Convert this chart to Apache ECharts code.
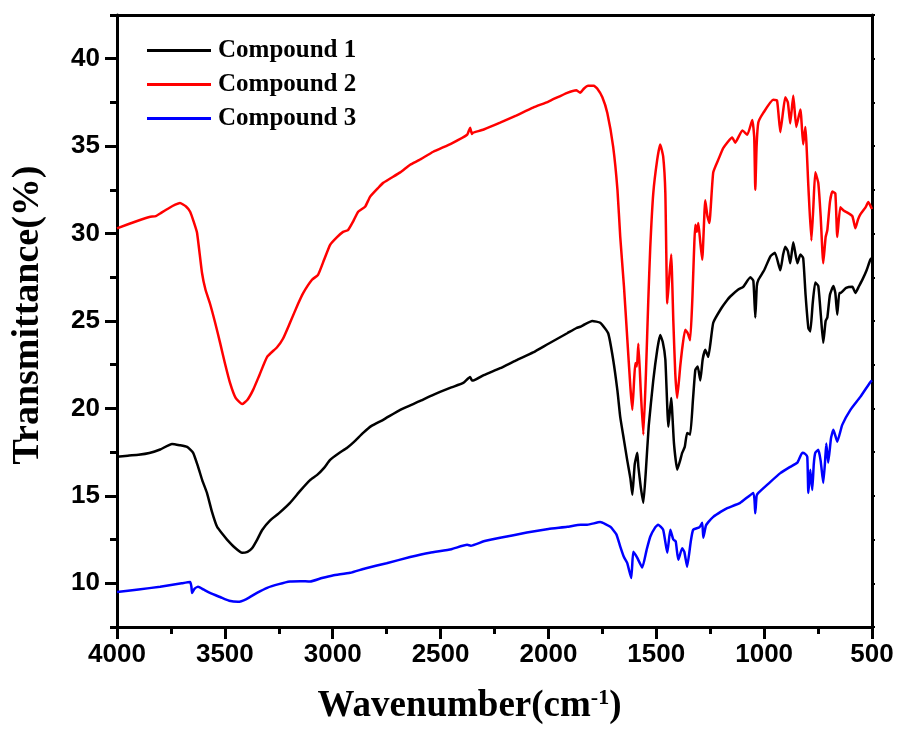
<!DOCTYPE html>
<html>
<head>
<meta charset="utf-8">
<script src="https://cdn.jsdelivr.net/npm/echarts@6/dist/echarts.min.js"></script>
<style>
html,body{margin:0;padding:0;background:#fff;}
#chart{width:900px;height:731px;}
</style>
</head>
<body>
<div id="chart"></div>
<script>
// ---- data: [wavenumber (cm-1), transmittance (%)] ----
var seriesNames = ['Compound 1', 'Compound 2', 'Compound 3'];

var compound1 = [[4000,17.23],[3950,17.3],[3900,17.35],[3850,17.45],[3800,17.65],[3745,17.97],[3710,17.9],[3675,17.8],[3647,17.46],[3624,16.66],[3605,15.9],[3583,15.17],[3560,14.1],[3536,13.23],[3510,12.8],[3490,12.5],[3453,12.03],[3420,11.74],[3395,11.8],[3374,12.0],[3350,12.5],[3327,13.05],[3290,13.6],[3250,14.0],[3198,14.6],[3150,15.3],[3105,15.9],[3072,16.2],[3040,16.6],[3012,17.06],[2970,17.45],[2933,17.75],[2900,18.1],[2859,18.6],[2820,19.0],[2766,19.35],[2687,19.92],[2600,20.4],[2534,20.78],[2450,21.2],[2395,21.46],[2363,21.8],[2355,21.6],[2349,21.6],[2300,21.9],[2224,22.3],[2150,22.75],[2071,23.2],[2000,23.7],[1913,24.3],[1870,24.6],[1853,24.67],[1840,24.75],[1797,25.0],[1760,24.9],[1723,24.3],[1700,22.8],[1680,21.0],[1667,19.5],[1650,18.2],[1635,17.06],[1620,16.0],[1611,15.06],[1600,16.8],[1588,17.46],[1583,16.66],[1572,15.5],[1560,14.6],[1548,16.5],[1535,19.0],[1514,21.6],[1495,23.4],[1482,24.2],[1470,23.8],[1458,22.8],[1444,18.95],[1431,20.6],[1418,18.0],[1403,16.5],[1390,17.0],[1380,17.46],[1368,17.8],[1357,18.6],[1343,18.5],[1330,20.5],[1319,22.2],[1308,22.4],[1296,21.6],[1285,22.8],[1273,23.35],[1259,22.95],[1236,24.9],[1200,25.7],[1171,26.2],[1157,26.4],[1120,26.8],[1097,26.95],[1064,27.5],[1050,27.3],[1041,25.2],[1034,27.0],[1027,27.35],[1000,27.9],[971,28.7],[950,28.9],[925,27.9],[912,28.8],[902,29.25],[890,29.0],[879,28.3],[865,29.5],[846,28.3],[832,28.8],[819,28.6],[808,26.5],[795,24.6],[786,24.4],[775,26.0],[763,27.2],[749,27.0],[737,25.3],[726,23.75],[715,25.0],[707,25.2],[695,26.5],[679,27.0],[670,26.6],[661,25.36],[652,26.6],[647,26.6],[620,26.9],[591,26.96],[577,26.6],[560,27.0],[545,27.35],[525,27.9],[508,28.5],[500,28.6]];

var compound2 = [[4000,30.3],[3900,30.75],[3850,30.95],[3820,31.0],[3800,31.15],[3760,31.45],[3730,31.65],[3708,31.75],[3680,31.55],[3661,31.25],[3645,30.7],[3629,30.05],[3606,27.76],[3590,26.8],[3569,26.0],[3545,24.9],[3522,23.75],[3500,22.6],[3476,21.46],[3450,20.6],[3420,20.25],[3395,20.5],[3369,21.06],[3340,21.9],[3304,22.95],[3258,23.5],[3230,24.0],[3198,24.9],[3160,26.0],[3137,26.6],[3096,27.36],[3068,27.64],[3040,28.5],[3012,29.36],[2980,29.8],[2952,30.1],[2929,30.2],[2905,30.7],[2882,31.25],[2850,31.53],[2827,32.1],[2790,32.6],[2766,32.9],[2687,33.5],[2641,33.94],[2600,34.2],[2534,34.68],[2450,35.15],[2377,35.65],[2363,36.05],[2355,35.7],[2349,35.77],[2300,35.95],[2224,36.34],[2150,36.75],[2071,37.2],[2000,37.55],[1913,38.05],[1870,38.2],[1853,38.05],[1835,38.3],[1816,38.45],[1790,38.45],[1774,38.3],[1750,37.8],[1727,36.9],[1700,34.97],[1680,32.5],[1667,29.8],[1650,27.0],[1635,24.1],[1620,21.2],[1611,19.92],[1602,21.8],[1597,22.6],[1590,22.4],[1583,23.7],[1572,21.0],[1560,18.5],[1548,22.0],[1537,26.2],[1528,29.2],[1514,32.3],[1496,34.2],[1482,35.1],[1468,34.4],[1458,32.3],[1449,26.0],[1440,27.5],[1431,28.8],[1421,25.0],[1412,22.0],[1403,20.6],[1389,22.4],[1378,23.6],[1366,24.5],[1354,24.3],[1343,23.9],[1333,26.2],[1319,30.5],[1312,30.1],[1305,30.6],[1296,29.5],[1287,28.5],[1273,31.9],[1263,31.0],[1254,30.6],[1236,33.5],[1210,34.3],[1189,34.9],[1148,35.5],[1134,35.2],[1101,35.9],[1078,35.65],[1055,36.5],[1046,35.5],[1041,32.5],[1035,35.0],[1027,36.35],[1004,36.9],[958,37.65],[940,37.6],[925,35.8],[912,37.0],[902,37.8],[890,37.5],[879,36.3],[865,37.9],[851,36.1],[832,37.1],[819,35.1],[809,36.1],[795,32.7],[781,29.6],[772,31.5],[763,33.5],[749,32.9],[738,31.0],[726,28.3],[715,29.8],[707,30.2],[695,31.8],[684,32.4],[670,32.3],[661,29.8],[647,31.5],[630,31.3],[614,31.2],[591,31.0],[577,30.3],[565,30.8],[554,31.1],[530,31.5],[517,31.8],[500,31.4]];

var compound3 = [[4000,9.5],[3900,9.65],[3800,9.8],[3700,10.0],[3661,10.07],[3655,9.8],[3652,9.45],[3640,9.7],[3624,9.8],[3600,9.65],[3569,9.45],[3520,9.2],[3480,9.0],[3439,8.94],[3400,9.1],[3351,9.45],[3304,9.74],[3250,9.95],[3198,10.1],[3150,10.12],[3105,10.1],[3050,10.3],[3000,10.45],[2919,10.6],[2850,10.85],[2750,11.15],[2641,11.5],[2550,11.75],[2450,11.95],[2377,12.2],[2360,12.15],[2300,12.4],[2224,12.6],[2100,12.9],[2000,13.1],[1913,13.23],[1850,13.35],[1820,13.35],[1760,13.5],[1713,13.23],[1685,12.8],[1667,12.1],[1650,11.5],[1635,11.17],[1616,10.3],[1607,11.8],[1595,11.6],[1588,11.45],[1565,10.9],[1545,11.9],[1528,12.66],[1505,13.2],[1491,13.35],[1468,13.06],[1449,11.74],[1435,13.06],[1421,12.5],[1410,12.4],[1398,11.34],[1380,12.0],[1370,11.8],[1357,10.95],[1340,12.4],[1329,13.06],[1300,13.2],[1287,13.46],[1282,12.6],[1270,13.3],[1259,13.5],[1236,13.8],[1200,14.1],[1171,14.3],[1111,14.6],[1050,15.17],[1041,14.0],[1035,15.0],[1027,15.17],[980,15.7],[925,16.3],[879,16.66],[846,16.9],[823,17.46],[810,17.4],[800,17.23],[795,15.17],[786,16.5],[777,15.34],[770,16.8],[763,17.46],[749,17.63],[738,17.0],[726,15.74],[718,16.9],[712,18.0],[703,16.9],[690,18.3],[679,18.78],[661,18.1],[638,19.06],[600,19.92],[554,20.66],[508,21.5],[500,21.6]];

var seriesColors = ['#000000', '#ff0000', '#0000ff'];

var xMin = 500, xMax = 4000, xStep = 500;
var yMin = 7.5, yMax = 42.5;
var yMajor = [10, 15, 20, 25, 30, 35, 40];
var yMinor = [7.5, 12.5, 17.5, 22.5, 27.5, 32.5, 37.5, 42.5];

var xTitle = 'Wavenumber(cm{sup|-1})';
var yTitle = 'Transmittance(%)';

// ---- chart ----
var tickFont = "'Liberation Sans',Arial,sans-serif";
var serifFont = "'Liberation Serif','Times New Roman',serif";
var chart = echarts.init(document.getElementById('chart'), null, {renderer: 'canvas'});

var option = {
  animation: false,
  backgroundColor: '#ffffff',
  grid: {left: 117, right: 28, top: 15, bottom: 104, containLabel: false, outerBoundsMode: 'none'},
  legend: {
    data: seriesNames,
    orient: 'vertical',
    left: 142,
    top: 33,
    icon: 'rect',
    itemWidth: 64,
    itemHeight: 3,
    itemGap: 9,
    textStyle: {fontFamily: serifFont, fontWeight: 'bold', fontSize: 25, color: '#000', padding: [0, 0, 0, 2]}
  },
  xAxis: [{
    type: 'value', min: xMin, max: xMax, interval: xStep, inverse: true, position: 'bottom',
    name: xTitle, nameLocation: 'middle', nameGap: 60,
    nameTextStyle: {fontFamily: serifFont, fontWeight: 'bold', fontSize: 37, color: '#000', padding: [0, 50, 0, 0],
      rich: {sup: {fontFamily: serifFont, fontWeight: 'bold', fontSize: 22, color: '#000', verticalAlign: 'top', padding: [0, 0, 16, 0]}}},
    axisLine: {show: true, onZero: false, lineStyle: {color: '#000', width: 3}},
    axisTick: {show: true, inside: false, length: 12, lineStyle: {color: '#000', width: 3}},
    minorTick: {show: true, splitNumber: 2, length: 7, lineStyle: {color: '#000', width: 3}},
    axisLabel: {fontFamily: tickFont, fontWeight: 'bold', fontSize: 26, color: '#000', margin: 15,
      formatter: function (v) { return String(v); }},
    splitLine: {show: false}, minorSplitLine: {show: false}
  }, {
    type: 'value', min: xMin, max: xMax, interval: xStep, inverse: true, position: 'top',
    axisLine: {show: true, onZero: false, lineStyle: {color: '#000', width: 3}},
    axisTick: {show: false}, axisLabel: {show: false}, splitLine: {show: false}
  }],
  yAxis: [{
    type: 'value', min: yMin, max: yMax, position: 'left',
    name: yTitle, nameLocation: 'middle', nameGap: 70, nameRotate: 90,
    nameTextStyle: {fontFamily: serifFont, fontWeight: 'bold', fontSize: 38, color: '#000', padding: [0, 0, 0, 12]},
    axisLine: {show: true, onZero: false, lineStyle: {color: '#000', width: 3}},
    axisTick: {show: true, inside: false, length: 12, customValues: yMajor, lineStyle: {color: '#000', width: 3}},
    axisLabel: {customValues: yMajor, fontFamily: tickFont, fontWeight: 'bold', fontSize: 26, color: '#000', margin: 17,
      formatter: function (v) { return String(v); }},
    splitLine: {show: false}
  }, {
    type: 'value', min: yMin, max: yMax, position: 'left',
    axisLine: {show: false},
    axisTick: {show: true, inside: false, length: 7, customValues: yMinor, lineStyle: {color: '#000', width: 3}},
    axisLabel: {show: false}, splitLine: {show: false}
  }, {
    type: 'value', min: yMin, max: yMax, position: 'right',
    axisLine: {show: true, onZero: false, lineStyle: {color: '#000', width: 3}},
    axisTick: {show: true, inside: false, length: 3, customValues: yMajor.concat(yMinor), lineStyle: {color: '#000', width: 2}},
    axisLabel: {show: false}, splitLine: {show: false}
  }],
  series: [compound1, compound2, compound3].map(function (d, i) {
    return {
      name: seriesNames[i], type: 'line', xAxisIndex: 0, yAxisIndex: 0,
      data: d, showSymbol: false, symbol: 'none', smooth: 0.15,
      lineStyle: {color: seriesColors[i], width: 2.5},
      itemStyle: {color: seriesColors[i]},
      z: 3 - i
    };
  })
};
chart.setOption(option);
</script>
</body>
</html>
